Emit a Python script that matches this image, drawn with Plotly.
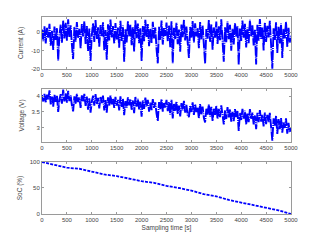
import plotly.graph_objects as go

# ---- data ----
time_step = 25
current_a = [
    1.5, -4.8, 3.2, -6.1, 2.4, -2.9, 4.6, -7.3, 0.8, -9.6, 3.1, -4.2, 2.2, -15.4, -1.8, 4.1, -5.7, 6.3, -3.4, 5.2,
    -4.6, 7.0, -2.5, 3.8, -6.8, -14.6, 2.9, -5.1, 5.6, -3.0, 1.9, -8.9, 4.4, -2.2, 6.1, -6.4, 3.5, -10.2, 2.0, -15.6,
    -1.4, 4.9, -5.3, 6.6, -3.6, 2.7, -7.9, 3.9, -2.1, 5.4, -9.8, 1.2, -15.0, 4.3, -4.5, 6.9, -2.8, 3.3, -6.2, 5.0,
    -3.9, 2.5, -8.4, 6.2, -4.7, 3.6, -16.0, 1.6, -5.5, 5.9, -2.4, 4.0, -7.1, 2.8, -10.4, 6.5, -3.2, 4.7, -6.0, 2.1,
    -15.6, 3.4, -4.9, 6.8, -2.6, 4.5, -7.6, 1.8, -5.8, 5.7, -3.3, 2.6, -9.2, -16.9, 3.0, -4.1, 6.4, -6.7, 2.3, -2.0,
    5.3, -5.0, 3.7, -8.1, 6.0, -16.8, 2.4, -3.7, 5.1, -6.5, 1.5, -10.6, 4.2, -2.7, 6.7, -4.4, 3.1, -7.4, -14.0, 2.9,
    -3.1, 6.1, -5.6, 4.8, -2.3, 2.2, -8.7, 5.5, -4.0, 3.6, -6.9, -17.0, 1.7, -3.5, 6.6, -5.2, 4.3, -9.5, 2.6, -2.9,
    5.8, -6.3, 3.2, -4.3, 7.1, -2.0, -16.0, 2.7, -5.4, 6.0, -3.8, 4.1, -10.0, 1.9, -6.6, 5.0, -2.5, 3.4, -17.8, 2.0,
    -4.7, 6.3, -3.0, 4.6, -8.3, 2.5, -5.9, 6.8, -2.2, 3.8, -7.2, 1.4, -17.5, 4.0, -4.6, 7.2, -3.6, 2.8, -9.9, 5.2,
    -5.3, 3.5, -2.8, 6.2, -7.0, -19.8, 2.1, -4.2, 5.4, -11.2, 3.0, -6.1, 4.7, -14.0, 1.8, -3.4, 5.9, -8.0, 2.4, -5.6,
    -1.5,
]
voltage_v = [
    4.03, 3.83, 4.07, 3.79, 4.04, 3.88, 4.18, 3.74, 3.98, 3.67, 4.05, 3.82, 4.01, 3.50, 3.89, 4.06, 3.76, 4.20, 3.83, 4.08,
    3.79, 4.16, 3.84, 4.03, 3.71, 3.52, 3.99, 3.75, 4.07, 3.81, 3.95, 3.63, 4.02, 3.82, 4.07, 3.69, 3.98, 3.57, 3.93, 3.48,
    3.83, 4.01, 3.70, 4.06, 3.75, 3.94, 3.61, 3.97, 3.78, 4.01, 3.55, 3.87, 3.48, 3.96, 3.69, 4.03, 3.74, 3.92, 3.63, 3.97,
    3.70, 3.88, 3.55, 3.99, 3.66, 3.91, 3.40, 3.84, 3.63, 3.96, 3.71, 3.90, 3.57, 3.86, 3.46, 3.97, 3.67, 3.91, 3.58, 3.82,
    3.35, 3.86, 3.60, 3.95, 3.67, 3.88, 3.51, 3.79, 3.56, 3.90, 3.63, 3.80, 3.45, 3.22, 3.81, 3.59, 3.90, 3.51, 3.78, 3.64,
    3.88, 3.53, 3.81, 3.42, 3.88, 3.30, 3.75, 3.54, 3.83, 3.44, 3.70, 3.36, 3.78, 3.55, 3.85, 3.48, 3.72, 3.40, 3.34, 3.70,
    3.50, 3.80, 3.41, 3.74, 3.50, 3.65, 3.30, 3.75, 3.43, 3.67, 3.32, 3.17, 3.60, 3.42, 3.75, 3.35, 3.66, 3.22, 3.60, 3.41,
    3.69, 3.29, 3.60, 3.34, 3.71, 3.41, 3.11, 3.55, 3.28, 3.65, 3.33, 3.58, 3.20, 3.50, 3.21, 3.59, 3.34, 3.53, 2.91, 3.47,
    3.25, 3.60, 3.29, 3.54, 3.11, 3.46, 3.18, 3.59, 3.29, 3.48, 3.11, 3.39, 2.96, 3.47, 3.18, 3.56, 3.20, 3.41, 3.05, 3.48,
    3.12, 3.41, 3.18, 3.47, 3.01, 2.60, 3.30, 3.07, 3.38, 2.81, 3.28, 2.96, 3.31, 2.85, 3.19, 3.00, 3.30, 2.82, 3.16, 2.87,
    3.00,
]
soc_time = [0, 250, 500, 750, 1000, 1250, 1500, 1750, 2000, 2250, 2500, 2750, 3000,
            3250, 3500, 3750, 4000, 4250, 4500, 4750, 5000]
soc_pct = [100, 95, 89, 87, 82, 76, 73, 68, 63, 60, 54, 50, 45,
           38, 34, 27, 22, 17, 11, 7, 0]

x_ticks = [0, 500, 1000, 1500, 2000, 2500, 3000, 3500, 4000, 4500, 5000]
cur_ticks = [0, -10, -20]
cur_ticktext = ["0", "-10", "-20"]
volt_ticks = [3, 3.5, 4]
soc_ticks = [0, 50, 100]

time_s = [i * time_step for i in range(len(current_a))]

BLUE = "#0000ff"
FONT = "Liberation Sans, Arial, sans-serif"

fig = go.Figure()
fig.add_trace(go.Scatter(x=time_s, y=current_a, mode="lines",
                         line=dict(color=BLUE, width=1.9, dash="10px,1px,1px,1px"),
                         xaxis="x", yaxis="y", showlegend=False))
fig.add_trace(go.Scatter(x=time_s, y=voltage_v, mode="lines",
                         line=dict(color=BLUE, width=1.9, dash="10px,1px,1px,1px"),
                         xaxis="x2", yaxis="y2", showlegend=False))
fig.add_trace(go.Scatter(x=soc_time, y=soc_pct, mode="lines",
                         line=dict(color=BLUE, width=1.8, dash="3px,1.2px"),
                         xaxis="x3", yaxis="y3", showlegend=False))

ax_common = dict(showline=True, linecolor="#9a9a9a", linewidth=1, mirror="ticks",
                 ticks="inside", ticklen=2, tickcolor="#9a9a9a", showgrid=False,
                 zeroline=False, automargin=False,
                 tickfont=dict(size=6, color="#444", family=FONT))
xa = dict(ax_common, range=[0, 5000], tickvals=x_ticks)

top_dom = [0.736, 1.0]
mid_dom = [0.3655, 0.6345]
bot_dom = [0.0, 0.264]

# the page body adds an 8px offset, so the figure is sized to fit the window
fig.update_layout(
    width=313, height=233,
    margin=dict(l=34, r=30, t=9, b=27),
    paper_bgcolor="white", plot_bgcolor="white",
    font=dict(family=FONT, size=6, color="#444"),
    xaxis=dict(xa, domain=[0, 1], anchor="y"),
    xaxis2=dict(xa, domain=[0, 1], anchor="y2"),
    xaxis3=dict(xa, domain=[0, 1], anchor="y3",
                title=dict(text="Sampling time [s]", font=dict(size=6.5, color="#444"), standoff=3)),
    yaxis=dict(ax_common, domain=top_dom, anchor="x", range=[-20, 8.3],
               tickvals=cur_ticks, ticktext=cur_ticktext,
               title=dict(text="Current (A)", font=dict(size=6.5, color="#444"), standoff=6)),
    yaxis2=dict(ax_common, domain=mid_dom, anchor="x2", range=[2.56, 4.22],
                tickvals=volt_ticks,
                title=dict(text="Voltage (V)", font=dict(size=6.5, color="#444"), standoff=6)),
    yaxis3=dict(ax_common, domain=bot_dom, anchor="x3", range=[0, 100],
                tickvals=soc_ticks,
                title=dict(text="SoC (%)", font=dict(size=6.5, color="#444"), standoff=6)),
)

fig.write_html("out.html")
